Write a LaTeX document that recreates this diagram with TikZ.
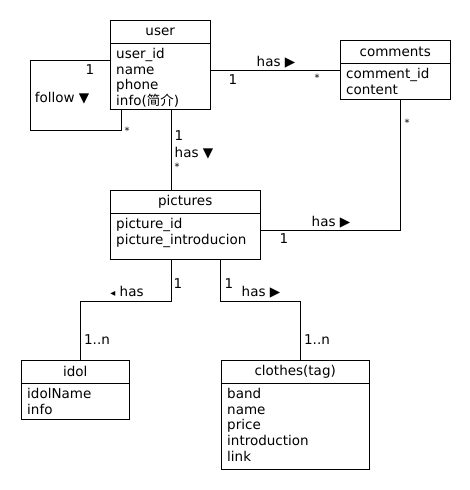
\documentclass[tikz,border=0pt]{standalone}
\usepackage{fontspec}
\setmainfont{DejaVu Sans}
\newfontfamily\cjk{Noto Sans CJK SC}
\usetikzlibrary{positioning}

\tikzset{
  classhead/.style={draw, minimum height=23pt, inner sep=0pt, anchor=north west},
  classbody/.style={draw, inner sep=0pt},
  attrs/.style={anchor=north west, align=left, inner xsep=6pt, inner ysep=4.7pt},
  lbl/.style={inner sep=0pt},
  many/.style={inner sep=0pt, font=\fontsize{10}{12}\selectfont},
}

\begin{document}
\begin{tikzpicture}[x=1pt,y=-1pt,font=\fontsize{13.5}{15.7}\selectfont]
  \useasboundingbox (0,0) rectangle (470,490);

  % classes
  \node[classhead, minimum width=100pt] (userhead) at (110,20) {user};
  \node[classbody, minimum width=100pt, minimum height=66pt, below=0pt of userhead] (userbody) {};
  \node[attrs] (userattr) at (userbody.north west) {user\_id\\name\\phone\\info({\cjk 简介})};

  \node[classhead, minimum width=110pt] (commentshead) at (340,40) {comments};
  \node[classbody, minimum width=110pt, minimum height=36pt, below=0pt of commentshead] (commentsbody) {};
  \node[attrs] (commentsattr) at (commentsbody.north west) {comment\_id\\content};

  \node[classhead, minimum width=150pt] (pichead) at (110,190) {pictures};
  \node[classbody, minimum width=150pt, minimum height=46pt, below=0pt of pichead] (picbody) {};
  \node[attrs] (picattr) at (picbody.north west) {picture\_id\\picture\_introducion};

  \node[classhead, minimum width=108pt] (idolhead) at (21,360) {idol};
  \node[classbody, minimum width=108pt, minimum height=36pt, below=0pt of idolhead] (idolbody) {};
  \node[attrs] (idolattr) at (idolbody.north west) {idolName\\info};

  \node[classhead, minimum width=148pt] (clotheshead) at (221,360) {clothes(tag)};
  \node[classbody, minimum width=148pt, minimum height=86pt, below=0pt of clotheshead] (clothesbody) {};
  \node[attrs] (clothesattr) at (clothesbody.north west) {band\\name\\price\\introduction\\link};

  % associations
  \draw ([yshift=-17pt]userbody.north west) -- ++(-80,0) -- ++(0,70) -| ([xshift=11pt]userbody.south west);
  \coordinate (uc) at ([yshift=-7pt]commentsbody.north west);
  \draw (userbody.east |- uc) -- (uc);
  \draw ([xshift=61pt]userbody.south west) -- ([xshift=61pt]pichead.north west);
  \draw ([xshift=60pt]commentsbody.south west) |- ([yshift=-17pt]picbody.north east);
  \draw ([xshift=61pt]picbody.south west) -- ++(0,41) -| ([xshift=59pt]idolhead.north west);
  \draw ([xshift=110pt]picbody.south west) -- ++(0,41) -| ([xshift=79pt]clotheshead.north west);

  % labels
  \node[lbl] (fl1) at (90,70) {1};
  \node[lbl] (flname) at (62,98) {follow ▼};
  \node[many] (flm) at (127,131) {*};
  \node[lbl] (uc1) at (233,80) {1};
  \node[lbl] (ucname) at (276,62) {has ▶};
  \node[many] (ucm) at (317,78) {*};
  \node[lbl] (up1) at (179,136) {1};
  \node[lbl] (upname) at (194,153) {has ▼};
  \node[many] (upm) at (177,167) {*};
  \node[many] (cpm) at (407,123) {*};
  \node[lbl] (cpname) at (331,222) {has ▶};
  \node[lbl] (cp1) at (284,239) {1};
  \node[lbl] (pi1) at (178,284) {1};
  \node[lbl] (piname) at (127,291) {{\fontsize{10}{12}\selectfont ◂} has};
  \node[lbl] (pin) at (97,340) {1..n};
  \node[lbl] (pc1) at (229,284) {1};
  \node[lbl] (pcname) at (261,292) {has ▶};
  \node[lbl] (pcn) at (317,340) {1..n};
\end{tikzpicture}
\end{document}
